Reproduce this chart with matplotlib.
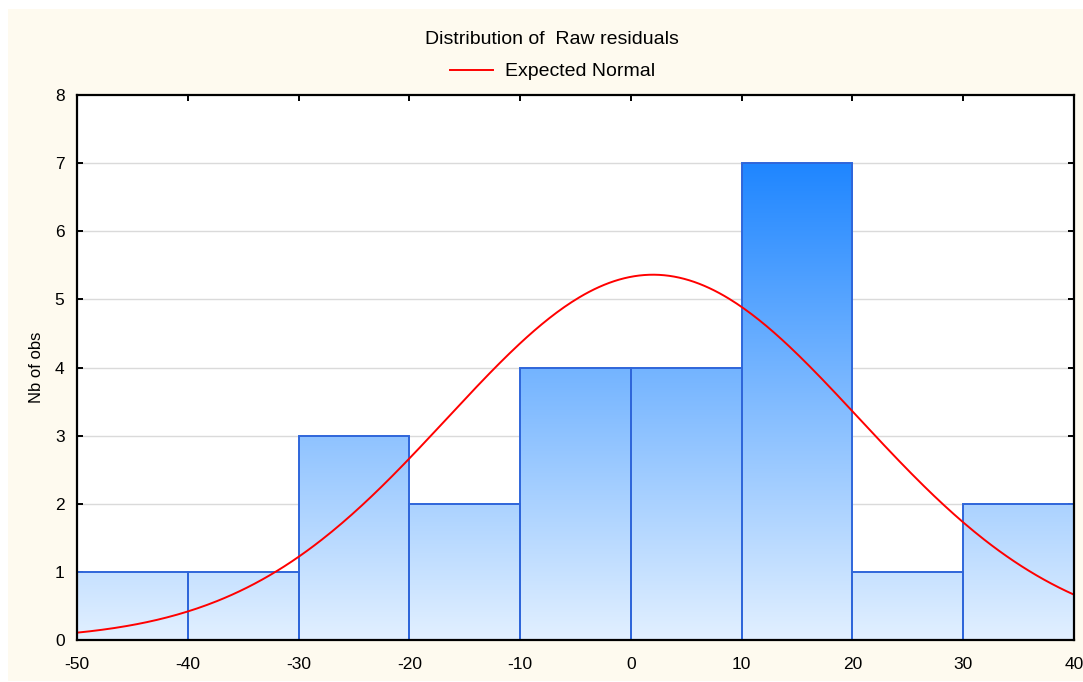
import numpy as np
import matplotlib
matplotlib.use("Agg")
import matplotlib.pyplot as plt
from matplotlib.colors import LinearSegmentedColormap
from matplotlib.patches import Rectangle

plt.rcParams['font.family'] = ['Liberation Sans', 'DejaVu Sans']
plt.rcParams['axes.unicode_minus'] = False

# Data
bin_edges = [-50, -40, -30, -20, -10, 0, 10, 20, 30, 40]
counts = [1, 1, 3, 2, 4, 4, 7, 1, 2]
x_ticks = [-50, -40, -30, -20, -10, 0, 10, 20, 30, 40]
y_ticks = [0, 1, 2, 3, 4, 5, 6, 7, 8]
normal_mean = 2.0
normal_sd = 18.6
n_obs = sum(counts)
bin_width = 10

fig = plt.figure(figsize=(10.83, 6.82), dpi=100)
fig.patch.set_facecolor('white')
bg = Rectangle((8/1083, 1/682), 1 - 8/1083, 1 - 10/682,
               transform=fig.transFigure, facecolor='#FEFAEF',
               edgecolor='none', zorder=-10)
fig.patches.append(bg)

ax = fig.add_axes([77/1083, 1 - 640/682, (1074 - 77)/1083, (640 - 95)/682])
ax.set_zorder(1)
ax.set_facecolor('white')
ax.set_xlim(-50, 40)
ax.set_ylim(0, 8)

for y in y_ticks[1:-1]:
    ax.axhline(y, color='#DADADA', lw=1.0, zorder=1)

cmap = LinearSegmentedColormap.from_list('g', ['#E2F0FF', '#1F86FF'])
grad = np.linspace(0, 1, 256).reshape(-1, 1)
for i, c in enumerate(counts):
    x0, x1 = bin_edges[i], bin_edges[i + 1]
    im = ax.imshow(grad, cmap=cmap, origin='lower', aspect='auto',
                   extent=[x0, x1, 0, 7], zorder=2, interpolation='bilinear')
    rect = Rectangle((x0, 0), x1 - x0, c, facecolor='none',
                     edgecolor='#2F66DA', lw=1.4, zorder=3)
    ax.add_patch(rect)
    im.set_clip_path(rect)
ax.set_xlim(-50, 40)
ax.set_ylim(0, 8)

xs = np.linspace(-50, 40, 400)
ys = n_obs * bin_width / (normal_sd * np.sqrt(2 * np.pi)) * np.exp(-0.5 * ((xs - normal_mean) / normal_sd) ** 2)
ax.plot(xs, ys, color='#FF0000', lw=1.4, zorder=4)

ax.set_xticks(x_ticks)
ax.set_yticks(y_ticks)
ax.tick_params(direction='in', length=4, width=1.4, top=True, right=True,
               labelsize=12.5, colors='black')
ax.tick_params(axis='x', pad=12)
ax.tick_params(axis='y', pad=9)
for s in ax.spines.values():
    s.set_linewidth(1.6)
    s.set_color('black')
    s.set_zorder(5)

ax.set_ylabel('Nb of obs', fontsize=12, labelpad=8)
fig.text(552/1083, 1 - 39/682, 'Distribution of  Raw residuals', ha='center', va='center', fontsize=14)
fig.lines.append(plt.Line2D([450/1083, 493/1083], [1 - 70/682, 1 - 70/682],
                            transform=fig.transFigure, color='#FF0000', lw=1.4))
fig.text(505/1083, 1 - 71/682, 'Expected Normal', ha='left', va='center', fontsize=14)

fig.savefig('out.png', dpi=100)
